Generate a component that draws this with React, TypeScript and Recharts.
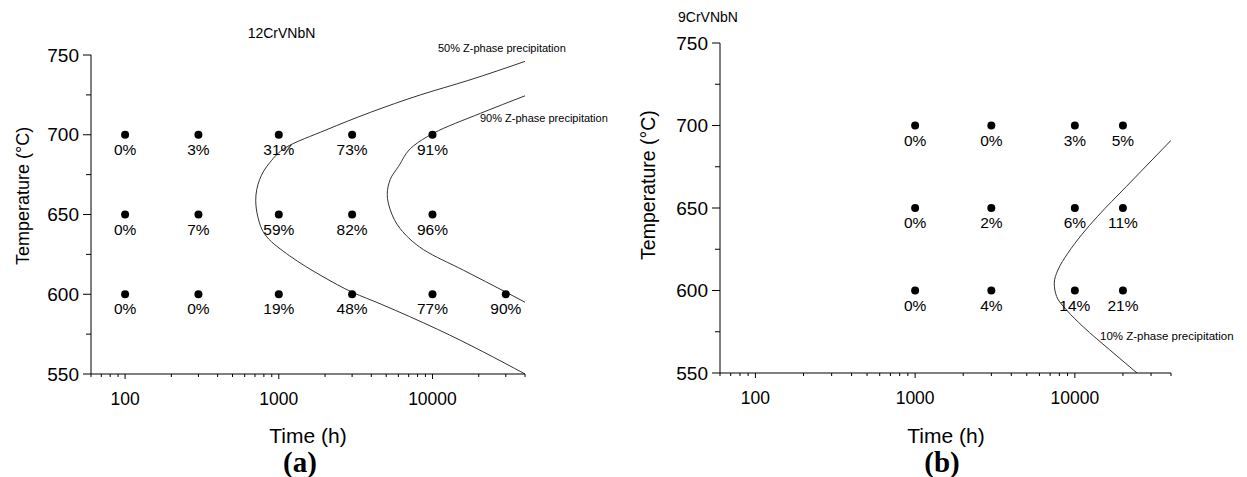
import { ComposedChart, Line, Scatter, XAxis, YAxis } from "recharts";

// measured points (time in h, percentage of Z-phase)
const timesA = [100, 300, 1000, 3000, 10000, 30000];
const a700 = [0, 3, 31, 73, 91];
const a650 = [0, 7, 59, 82, 96];
const a600 = [0, 0, 19, 48, 77, 90];

const timesB = [1000, 3000, 10000, 20000];
const b700 = [0, 0, 3, 5];
const b650 = [0, 2, 6, 11];
const b600 = [0, 4, 14, 21];

// C-curves as [time, temperature], ordered from top to bottom
const curve50A: [number, number][] = [
  [40000, 746], [17000, 734], [8350, 725], [3935, 714], [2030, 703],
  [1111, 692], [873, 682.5], [751, 672], [708, 659], [729, 649],
  [835, 636], [1180, 624], [1940, 611], [3050, 601], [4570, 594],
  [10800, 578], [40000, 550],
];
const curve90A: [number, number][] = [
  [40000, 724.4], [20600, 713.5], [10160, 701], [7520, 693], [6000, 680],
  [5310, 672], [5080, 662.5], [5310, 653], [6180, 641], [8730, 628],
  [15960, 615], [30500, 601], [40000, 595],
];
const curve10B: [number, number][] = [
  [40000, 691], [21000, 663], [13900, 645], [11070, 634], [9040, 622.6],
  [7830, 612.4], [7430, 604.4], [7690, 596.3], [8870, 588.2], [11280, 578],
  [16550, 564], [24500, 550],
];

const xTicks = [
  60, 70, 80, 90, 100, 200, 300, 400, 500, 600, 700, 800, 900, 1000,
  2000, 3000, 4000, 5000, 6000, 7000, 8000, 9000, 10000, 20000, 30000, 40000,
];
const xMajor = [100, 1000, 10000];
const yTicks = [550, 575, 600, 625, 650, 675, 700, 725, 750];

const SANS = "'Liberation Sans', Arial, sans-serif";
const SERIF = "'Liberation Serif', 'Times New Roman', serif";

const toPoints = (times: number[], temp: number, pct: number[]) =>
  pct.map((p, i) => ({ t: times[i], T: temp, label: `${p}%` }));

const toCurve = (c: [number, number][]) => c.map(([t, T]) => ({ t, T }));

const pointsA = [
  ...toPoints(timesA, 700, a700),
  ...toPoints(timesA, 650, a650),
  ...toPoints(timesA, 600, a600),
];
const pointsB = [
  ...toPoints(timesB, 700, b700),
  ...toPoints(timesB, 650, b650),
  ...toPoints(timesB, 600, b600),
];

function XTick({ x, y, payload, fontSize }: any) {
  const major = xMajor.includes(payload.value);
  return (
    <g>
      <line x1={x} x2={x} y1={y} y2={y + (major ? 5 : 3)} stroke="#000" />
      {major && (
        <text x={x} y={y + 31} textAnchor="middle" fontSize={fontSize} fontFamily={SANS} fill="#000">
          {payload.value}
        </text>
      )}
    </g>
  );
}

function YTick({ x, y, payload, fontSize }: any) {
  const major = payload.value % 50 === 0;
  return (
    <g>
      <line x1={x - (major ? 8 : 5)} x2={x} y1={y} y2={y} stroke="#000" />
      {major && (
        <text x={x - 12} y={y + 6.5} textAnchor="end" fontSize={fontSize} fontFamily={SANS} fill="#000">
          {payload.value}
        </text>
      )}
    </g>
  );
}

function Dot(props: any) {
  const { cx, cy, payload } = props;
  return (
    <g>
      <circle cx={cx} cy={cy} r={4} fill="#000" />
      <text x={cx} y={cy + 20} textAnchor="middle" fontSize={15.5} fontFamily={SANS} fill="#000">
        {payload.label}
      </text>
    </g>
  );
}

interface PanelProps {
  width: number;
  margin: { top: number; right: number; bottom: number; left: number };
  yWidth: number;
  points: { t: number; T: number; label: string }[];
  curves: [number, number][][];
  yFont: number;
}

function Panel({ width, margin, yWidth, points, curves, yFont }: PanelProps) {
  return (
    <ComposedChart width={width} height={477} margin={margin}>
      <XAxis
        dataKey="t"
        type="number"
        scale="log"
        domain={[60, 40000]}
        allowDataOverflow
        ticks={xTicks}
        interval={0}
        height={30}
        tickSize={0}
        tickMargin={0}
        tickLine={false}
        axisLine={{ stroke: "#000" }}
        tick={(p: any) => <XTick {...p} fontSize={17.5} />}
      />
      <YAxis
        dataKey="T"
        type="number"
        domain={[550, 750]}
        allowDataOverflow
        ticks={yTicks}
        interval={0}
        width={yWidth}
        tickSize={0}
        tickMargin={0}
        tickLine={false}
        axisLine={{ stroke: "#000" }}
        tick={(p: any) => <YTick {...p} fontSize={yFont} />}
      />
      {curves.map((c, i) => (
        <Line
          key={i}
          data={toCurve(c)}
          dataKey="T"
          type="monotoneY"
          stroke="#333"
          strokeWidth={1}
          dot={false}
          activeDot={false}
          isAnimationActive={false}
        />
      ))}
      <Scatter data={points} shape={<Dot />} isAnimationActive={false} />
    </ComposedChart>
  );
}

export default function App() {
  return (
    <div style={{ position: "absolute", left: 0, top: 0, width: 1247, height: 477, background: "#fff" }}>
      <div style={{ position: "absolute", left: 0, top: 0 }}>
        <Panel
          width={624}
          margin={{ top: 55, right: 99, bottom: 73, left: 0 }}
          yWidth={91}
          points={pointsA}
          curves={[curve50A, curve90A]}
          yFont={19}
        />
      </div>
      <div style={{ position: "absolute", left: 624, top: 0 }}>
        <Panel
          width={623}
          margin={{ top: 43, right: 76, bottom: 74, left: 0 }}
          yWidth={96}
          points={pointsB}
          curves={[curve10B]}
          yFont={19}
        />
      </div>
      <svg
        width={1247}
        height={477}
        style={{ position: "absolute", left: 0, top: 0, pointerEvents: "none" }}
        fontFamily={SANS}
      >
        <text x={281.5} y={38} textAnchor="middle" fontSize={14}>12CrVNbN</text>
        <text x={708} y={22} textAnchor="middle" fontSize={14}>9CrVNbN</text>
        <text x={438} y={52} fontSize={11}>50% Z-phase precipitation</text>
        <text x={480} y={122} fontSize={11}>90% Z-phase precipitation</text>
        <text x={1100} y={340} fontSize={11.5}>10% Z-phase precipitation</text>
        <text
          x={23}
          y={196}
          textAnchor="middle"
          dominantBaseline="central"
          fontSize={18}
          transform="rotate(-90 23 196)"
        >
          Temperature (°C)
        </text>
        <text
          x={648}
          y={185}
          textAnchor="middle"
          dominantBaseline="central"
          fontSize={19.5}
          transform="rotate(-90 648 185)"
        >
          Temperature (°C)
        </text>
        <text x={308} y={443} textAnchor="middle" fontSize={21}>Time (h)</text>
        <text x={946} y={443} textAnchor="middle" fontSize={21}>Time (h)</text>
        <text x={300} y={472} textAnchor="middle" fontSize={29} fontWeight="bold" fontFamily={SERIF}>(a)</text>
        <text x={942} y={472} textAnchor="middle" fontSize={29} fontWeight="bold" fontFamily={SERIF}>(b)</text>
      </svg>
    </div>
  );
}
